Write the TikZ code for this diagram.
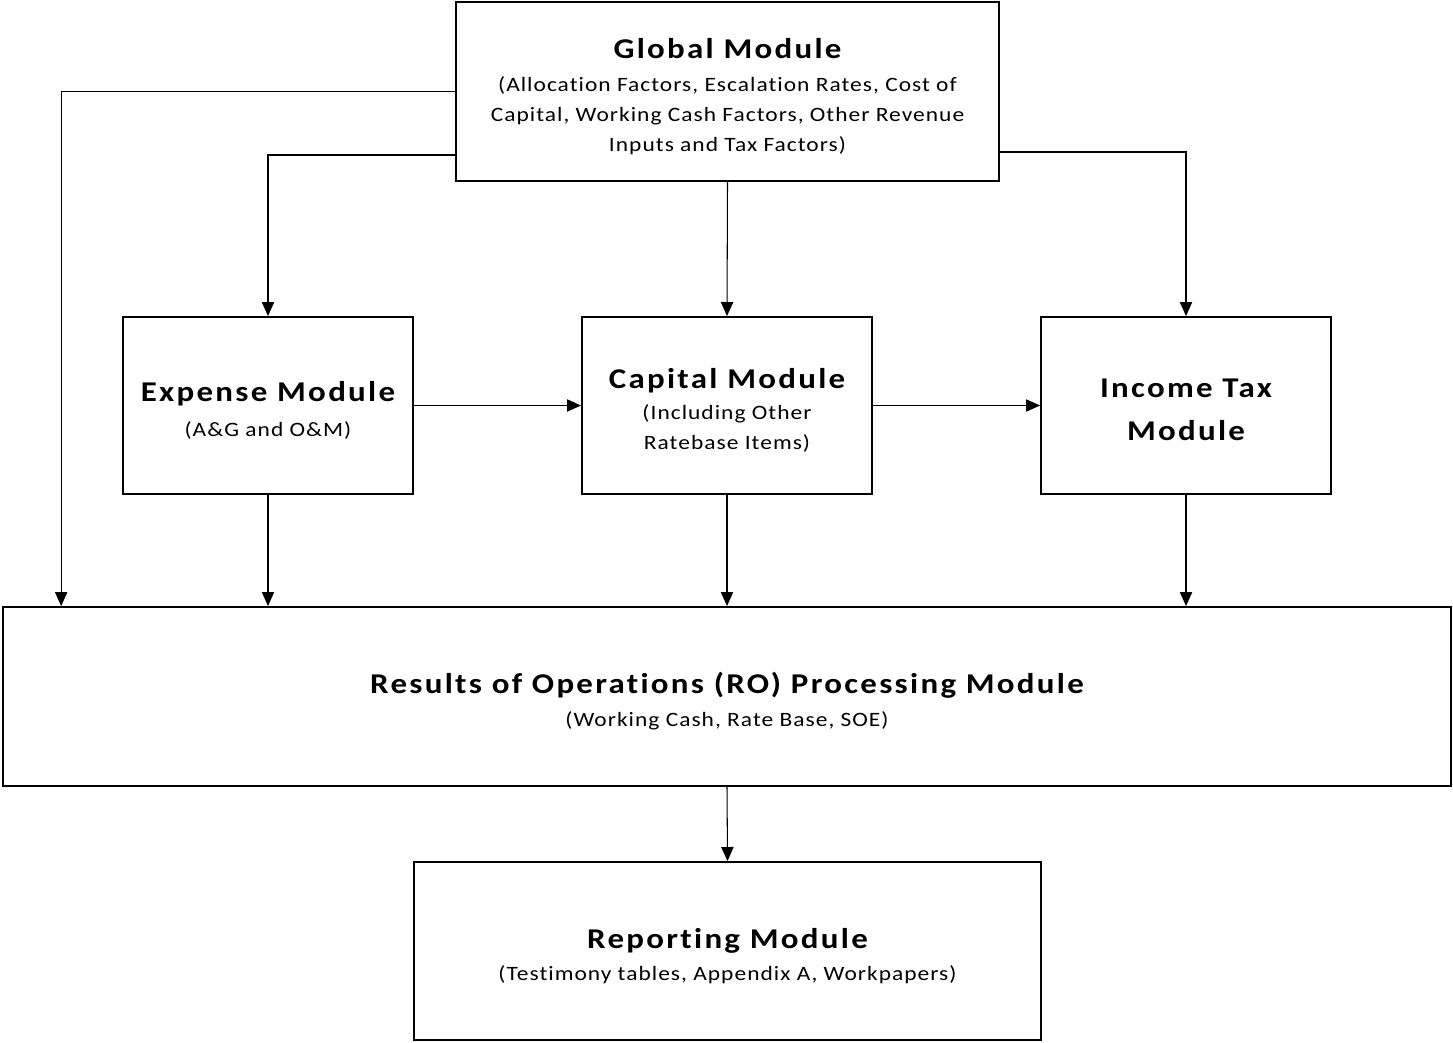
\documentclass[tikz,border=0pt]{standalone}
\usepackage{fontspec}
\setmainfont{Carlito}[FakeStretch=1.15, LetterSpace=5, Ligatures=NoCommon]
\usetikzlibrary{arrows.meta}

\tikzset{
  modbox/.style={draw, line width=1.1pt, align=center, inner sep=0pt,
    font=\fontsize{11.6}{17}\selectfont},
  conn/.style={line width=0.6pt, -{Triangle[length=8pt,width=7pt]}},
}
\newcommand{\modtitle}[1]{{\fontsize{16.3}{20}\selectfont\bfseries\addfontfeature{LetterSpace=8}#1}}
\newcommand{\modtop}{\rule{0pt}{17pt}}

\begin{document}
\begin{tikzpicture}[x=0.02cm,y=-0.02cm]
\useasboundingbox (0,0) rectangle (1453,1042);
% modules:
\node[modbox, minimum width=10.86cm, minimum height=3.58cm] (global) at (727.5,91.5)
  {\modtop\modtitle{Global Module}\\[1.7pt]
   (Allocation Factors, Escalation Rates, Cost of\\
   Capital, Working Cash Factors, Other Revenue\\
   Inputs and Tax Factors)};
\node[modbox, minimum width=5.8cm, minimum height=3.54cm] (expense) at (268,405.5)
  {\modtop\modtitle{Expense Module}\\[2.5pt] (A\&G and O\&M)};
\node[modbox, minimum width=5.8cm, minimum height=3.54cm] (capital) at (727,405.5)
  {\modtop\modtitle{Capital Module}\\[1pt] (Including Other\\ Ratebase Items)};
\node[modbox, minimum width=5.8cm, minimum height=3.54cm] (incometax) at (1186,405.5)
  {\rule{0pt}{15pt}\modtitle{Income Tax}\\[7.5pt] \modtitle{Module}};
\node[modbox, minimum width=28.96cm, minimum height=3.58cm] (ro) at (727,696.5)
  {\modtop\modtitle{Results of Operations (RO) Processing Module}\\[2pt]
   (Working Cash, Rate Base, SOE)};
\node[modbox, minimum width=12.54cm, minimum height=3.56cm] (reporting) at (727.5,951)
  {\modtop\modtitle{Reporting Module}\\[1.5pt]
   (Testimony tables, Appendix A, Workpapers)};
% connectors:
\draw[conn] (global.west) -| ([xshift=1.18cm]ro.north west);
\draw[conn] ([yshift=-1.27cm]global.west) -| (expense.north);
\draw[conn] (global.south) -- (capital.north);
\draw[conn] ([yshift=-1.21cm]global.east) -| (incometax.north);
\draw[conn] (expense.east) -- (capital.west);
\draw[conn] (capital.east) -- (incometax.west);
\draw[conn] (expense.south) -- (expense.south |- ro.north);
\draw[conn] (capital.south) -- (capital.south |- ro.north);
\draw[conn] (incometax.south) -- (incometax.south |- ro.north);
\draw[conn] (ro.south) -- (reporting.north);
\end{tikzpicture}
\end{document}
